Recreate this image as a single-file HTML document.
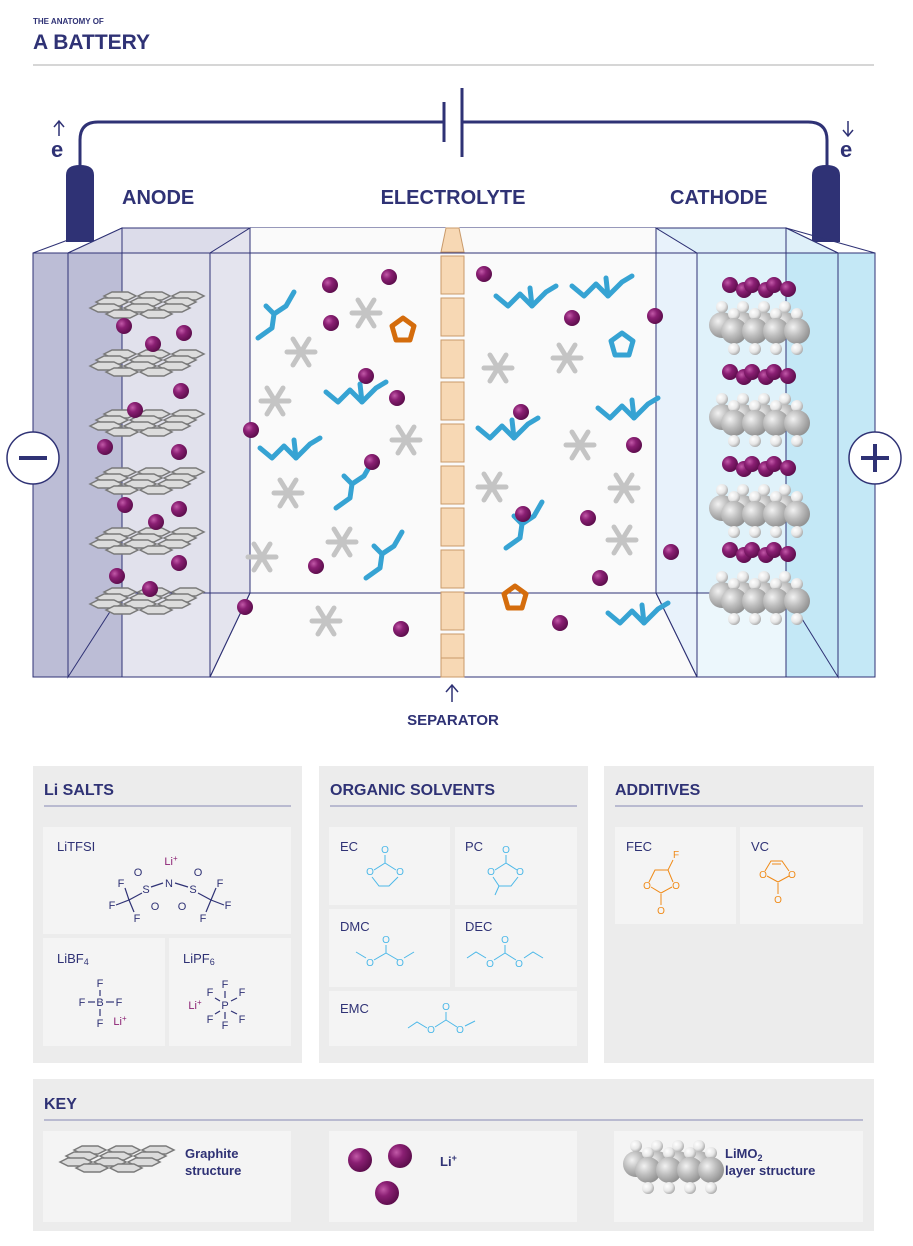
<!DOCTYPE html>
<html><head><meta charset="utf-8"><style>
html,body{margin:0;padding:0;background:#fff;}
svg{display:block;font-family:"Liberation Sans",sans-serif;}
</style></head><body>
<svg width="913" height="1246" viewBox="0 0 913 1246" xmlns="http://www.w3.org/2000/svg">
<defs>
<radialGradient id="li" cx="0.35" cy="0.35" r="0.7"><stop offset="0" stop-color="#c25aa8"/><stop offset="0.4" stop-color="#8a1f73"/><stop offset="1" stop-color="#5a0c4a"/></radialGradient>
<radialGradient id="gs" cx="0.35" cy="0.35" r="0.7"><stop offset="0" stop-color="#f2f2f2"/><stop offset="0.5" stop-color="#bdbdbd"/><stop offset="1" stop-color="#8f8f8f"/></radialGradient>
<radialGradient id="ws" cx="0.35" cy="0.35" r="0.7"><stop offset="0" stop-color="#ffffff"/><stop offset="0.6" stop-color="#e6e6e6"/><stop offset="1" stop-color="#a8a8a8"/></radialGradient>
<circle id="L" r="8" fill="url(#li)"/>
<g id="hex"><polygon points="0,4 8,0 24,0 32,4 24,8 8,8" fill="#dcdcdc" stroke="#7a7a7a" stroke-width="1.5"/></g>
<g id="gr">
<use href="#hex" x="14" y="0"/><use href="#hex" x="48" y="0"/><use href="#hex" x="82" y="0"/>
<use href="#hex" x="6" y="6"/><use href="#hex" x="40" y="6"/><use href="#hex" x="74" y="6"/>
<use href="#hex" x="0" y="12"/><use href="#hex" x="34" y="12"/><use href="#hex" x="68" y="12"/>
<use href="#hex" x="50" y="18"/><use href="#hex" x="16" y="18"/>
</g>
<g id="cl">
<circle cx="0" cy="-18" r="6" fill="url(#ws)"/><circle cx="21" cy="-18" r="6" fill="url(#ws)"/><circle cx="42" cy="-18" r="6" fill="url(#ws)"/><circle cx="63" cy="-18" r="6" fill="url(#ws)"/>
<circle cx="0" cy="0" r="13" fill="url(#gs)"/><circle cx="21" cy="0" r="13" fill="url(#gs)"/><circle cx="42" cy="0" r="13" fill="url(#gs)"/><circle cx="63" cy="0" r="13" fill="url(#gs)"/>
<circle cx="12" cy="-11" r="6" fill="url(#ws)"/><circle cx="33" cy="-11" r="6" fill="url(#ws)"/><circle cx="54" cy="-11" r="6" fill="url(#ws)"/><circle cx="75" cy="-11" r="6" fill="url(#ws)"/>
<circle cx="12" cy="6" r="13" fill="url(#gs)"/><circle cx="33" cy="6" r="13" fill="url(#gs)"/><circle cx="54" cy="6" r="13" fill="url(#gs)"/><circle cx="75" cy="6" r="13" fill="url(#gs)"/>
<circle cx="12" cy="24" r="6" fill="url(#ws)"/><circle cx="33" cy="24" r="6" fill="url(#ws)"/><circle cx="54" cy="24" r="6" fill="url(#ws)"/><circle cx="75" cy="24" r="6" fill="url(#ws)"/>
</g>
<g id="lr"><use href="#L" x="0" y="0"/><use href="#L" x="14" y="5"/><use href="#L" x="22" y="0"/><use href="#L" x="36" y="5"/><use href="#L" x="44" y="0"/><use href="#L" x="58" y="4"/></g>
<g id="ast" stroke="#c4c4c4" stroke-width="5" stroke-linecap="round"><line x1="-14" y1="0" x2="14" y2="0"/><line x1="-8" y1="-13" x2="8" y2="13"/><line x1="-8" y1="13" x2="8" y2="-13"/></g>
<g id="bm" fill="none" stroke="#36a3d3" stroke-width="5" stroke-linecap="round" stroke-linejoin="round"><polyline points="-24,18 -10,8 -8,-6 4,-14 12,-28"/><line x1="-8" y1="-6" x2="-16" y2="-14"/></g>
<g id="bm2" fill="none" stroke="#36a3d3" stroke-width="5" stroke-linecap="round" stroke-linejoin="round"><polyline points="-28,-4 -16,6 -4,-6 8,6 22,-8 32,-14"/><line x1="8" y1="6" x2="6" y2="-12"/></g>
<g id="ring"><polygon points="0,-12 11,-4 7,10 -7,10 -11,-4" fill="none" stroke-width="5" stroke-linejoin="round"/></g>
</defs>

<!-- header -->
<text x="33" y="24" font-size="8" font-weight="bold" fill="#2f3275">THE ANATOMY OF</text>
<text x="33" y="49" font-size="21" font-weight="bold" fill="#2f3275">A BATTERY</text>
<line x1="33" y1="65" x2="874" y2="65" stroke="#c8c8c8" stroke-width="1.5"/>

<!-- wire -->
<path d="M80 170 V140 Q80 122 98 122 H444" fill="none" stroke="#2f3275" stroke-width="3"/>
<path d="M462 122 H808 Q827 122 827 140 V170" fill="none" stroke="#2f3275" stroke-width="3"/>
<line x1="444" y1="102" x2="444" y2="142" stroke="#2f3275" stroke-width="3"/>
<line x1="462" y1="88" x2="462" y2="157" stroke="#2f3275" stroke-width="3"/>
<text x="51" y="157" font-size="22" font-weight="bold" fill="#2f3275">e</text>
<path d="M59 136 V122 M54 127 L59 121 L64 127" fill="none" stroke="#2f3275" stroke-width="1.5"/>
<text x="840" y="157" font-size="22" font-weight="bold" fill="#2f3275">e</text>
<path d="M848 121 V135 M843 130 L848 136 L853 130" fill="none" stroke="#2f3275" stroke-width="1.5"/>
<path d="M66 242 V175 Q66 165 80 165 Q94 165 94 175 V242 Z" fill="#2f3275"/>
<path d="M812 242 V175 Q812 165 826 165 Q840 165 840 175 V242 Z" fill="#2f3275"/>

<text x="122" y="204" font-size="20" font-weight="bold" fill="#2f3275">ANODE</text>
<text x="453" y="204" font-size="20" font-weight="bold" fill="#2f3275" text-anchor="middle">ELECTROLYTE</text>
<text x="670" y="204" font-size="20" font-weight="bold" fill="#2f3275">CATHODE</text>

<!-- cell -->
<g stroke="#2f3275" stroke-width="1">
<polygon points="250,228 656,228 656,593 250,593" fill="#fafafa"/>
<polygon points="250,228 656,228 697,253 697,677 210,677 210,253" fill="#fafafa" stroke="none"/>
<polygon points="33,253 68,253 68,677 33,677" fill="#bcbdd6"/>
<polygon points="68,253 122,228 122,593 68,677" fill="#bcbdd6"/>
<polygon points="122,228 250,228 250,593 122,593" fill="#e0e0ec"/>
<polygon points="68,253 122,228 250,228 210,253" fill="#dcdcea"/>
<polygon points="68,253 210,253 210,677 68,677" fill="#e0e0ec" fill-opacity="0.85"/>
<rect x="68" y="253" width="54" height="424" fill="#bcbdd6" stroke="none"/>
<line x1="122" y1="228" x2="122" y2="677"/>
<polygon points="210,253 250,228 250,593 210,677" fill="#e4e4ee"/>
<polygon points="656,228 786,228 786,593 656,593" fill="#e2f2fa"/>
<polygon points="656,228 697,253 697,677 656,593" fill="#e8f2fb"/>
<polygon points="786,228 838,253 838,677 786,593" fill="#c4e8f6"/>
<polygon points="838,253 875,253 875,677 838,677" fill="#c4e8f6"/>
<polygon points="656,228 786,228 838,253 697,253" fill="#dff0f9"/>
<polygon points="697,253 838,253 838,677 697,677" fill="#dff1fa" fill-opacity="0.6"/>
<rect x="786" y="253" width="52" height="424" fill="#c4e8f6" stroke="none"/>
<line x1="786" y1="228" x2="786" y2="677"/>
<line x1="33" y1="253" x2="875" y2="253"/>
<line x1="33" y1="677" x2="875" y2="677"/>
<line x1="68" y1="253" x2="68" y2="677"/><line x1="838" y1="253" x2="838" y2="677"/>
<line x1="122" y1="593" x2="786" y2="593"/>
<line x1="68" y1="677" x2="122" y2="593"/><line x1="210" y1="677" x2="250" y2="593"/>
<line x1="697" y1="677" x2="656" y2="593"/><line x1="838" y1="677" x2="786" y2="593"/>
<line x1="786" y1="228" x2="875" y2="253"/>
<line x1="33" y1="253" x2="68" y2="240"/>
</g>

<!-- graphite -->
<use href="#gr" x="90" y="292"/><use href="#gr" x="90" y="350"/><use href="#gr" x="90" y="410"/>
<use href="#gr" x="90" y="468"/><use href="#gr" x="90" y="528"/><use href="#gr" x="90" y="588"/>
<!-- Li anode -->
<use href="#L" x="124" y="326"/><use href="#L" x="153" y="344"/><use href="#L" x="184" y="333"/>
<use href="#L" x="181" y="391"/><use href="#L" x="135" y="410"/><use href="#L" x="105" y="447"/>
<use href="#L" x="179" y="452"/><use href="#L" x="125" y="505"/><use href="#L" x="179" y="509"/>
<use href="#L" x="156" y="522"/><use href="#L" x="179" y="563"/><use href="#L" x="117" y="576"/>
<use href="#L" x="150" y="589"/>

<!-- cathode -->
<use href="#lr" x="730" y="285"/><use href="#cl" x="722" y="325"/>
<use href="#lr" x="730" y="372"/><use href="#cl" x="722" y="417"/>
<use href="#lr" x="730" y="464"/><use href="#cl" x="722" y="508"/>
<use href="#lr" x="730" y="550"/><use href="#cl" x="722" y="595"/>

<!-- electrolyte molecules -->
<use href="#bm" x="282" y="320"/><use href="#bm2" x="354" y="396"/><use href="#bm2" x="288" y="452"/>
<use href="#bm" x="360" y="490"/><use href="#bm" x="390" y="560"/>
<use href="#bm2" x="524" y="300"/><use href="#bm2" x="600" y="290"/><use href="#bm2" x="506" y="432"/>
<use href="#bm2" x="626" y="412"/><use href="#bm" x="530" y="530"/><use href="#bm2" x="636" y="617"/>
<use href="#ring" x="403" y="330" stroke="#d46c0c"/><use href="#ring" x="515" y="598" stroke="#d46c0c"/>
<use href="#ring" x="622" y="345" stroke="#36a3d3"/>
<use href="#ast" x="301" y="352"/><use href="#ast" x="366" y="313"/><use href="#ast" x="275" y="401"/>
<use href="#ast" x="406" y="440"/><use href="#ast" x="288" y="493"/><use href="#ast" x="342" y="542"/>
<use href="#ast" x="262" y="557"/><use href="#ast" x="326" y="621"/><use href="#ast" x="498" y="368"/>
<use href="#ast" x="567" y="358"/><use href="#ast" x="580" y="445"/><use href="#ast" x="492" y="487"/>
<use href="#ast" x="624" y="488"/><use href="#ast" x="622" y="540"/>
<use href="#L" x="330" y="285"/><use href="#L" x="389" y="277"/><use href="#L" x="331" y="323"/>
<use href="#L" x="366" y="376"/><use href="#L" x="397" y="398"/><use href="#L" x="251" y="430"/>
<use href="#L" x="372" y="462"/><use href="#L" x="316" y="566"/><use href="#L" x="245" y="607"/>
<use href="#L" x="401" y="629"/><use href="#L" x="484" y="274"/><use href="#L" x="572" y="318"/>
<use href="#L" x="655" y="316"/><use href="#L" x="521" y="412"/><use href="#L" x="634" y="445"/>
<use href="#L" x="523" y="514"/><use href="#L" x="588" y="518"/><use href="#L" x="671" y="552"/>
<use href="#L" x="600" y="578"/><use href="#L" x="560" y="623"/>

<!-- separator -->
<g fill="#f7d8b4" stroke="#c99a6a" stroke-width="1">
<polygon points="441,252 446,228 459,228 464,252"/>
<rect x="441" y="256" width="23" height="38"/><rect x="441" y="298" width="23" height="38"/>
<rect x="441" y="340" width="23" height="38"/><rect x="441" y="382" width="23" height="38"/>
<rect x="441" y="424" width="23" height="38"/><rect x="441" y="466" width="23" height="38"/>
<rect x="441" y="508" width="23" height="38"/><rect x="441" y="550" width="23" height="38"/>
<rect x="441" y="592" width="23" height="38"/><rect x="441" y="634" width="23" height="38"/>
<rect x="441" y="658" width="23" height="19"/>
</g>
<path d="M452 702 V686 M446 692 L452 685 L458 692" fill="none" stroke="#2f3275" stroke-width="1.5"/>
<text x="453" y="725" font-size="15" font-weight="bold" fill="#2f3275" text-anchor="middle">SEPARATOR</text>

<!-- +/- -->
<circle cx="33" cy="458" r="26" fill="#fff" stroke="#2f3275" stroke-width="1.5"/>
<line x1="19" y1="458" x2="47" y2="458" stroke="#2f3275" stroke-width="4"/>
<circle cx="875" cy="458" r="26" fill="#fff" stroke="#2f3275" stroke-width="1.5"/>
<line x1="861" y1="458" x2="889" y2="458" stroke="#2f3275" stroke-width="4"/>
<line x1="875" y1="444" x2="875" y2="472" stroke="#2f3275" stroke-width="4"/>

<!-- panels -->
<rect x="33" y="766" width="269" height="297" fill="#ececec"/>
<rect x="319" y="766" width="269" height="297" fill="#ececec"/>
<rect x="604" y="766" width="270" height="297" fill="#ececec"/>
<rect x="33" y="1079" width="841" height="152" fill="#ececec"/>
<g font-size="16" font-weight="bold" fill="#2f3275">
<text x="44" y="795">Li SALTS</text><text x="330" y="795">ORGANIC SOLVENTS</text><text x="615" y="795">ADDITIVES</text><text x="44" y="1109">KEY</text>
</g>
<g stroke="#9a9cc0" stroke-width="1.2"><line x1="44" y1="806" x2="291" y2="806"/><line x1="330" y1="806" x2="577" y2="806"/><line x1="615" y1="806" x2="863" y2="806"/><line x1="44" y1="1120" x2="863" y2="1120"/></g>
<g fill="#f4f4f4">
<rect x="43" y="827" width="248" height="107"/><rect x="43" y="938" width="122" height="108"/><rect x="169" y="938" width="122" height="108"/>
<rect x="329" y="827" width="121" height="78"/><rect x="455" y="827" width="122" height="78"/>
<rect x="329" y="909" width="121" height="78"/><rect x="455" y="909" width="122" height="78"/>
<rect x="329" y="991" width="248" height="55"/>
<rect x="615" y="827" width="121" height="97"/><rect x="740" y="827" width="123" height="97"/>
<rect x="43" y="1131" width="248" height="91"/><rect x="329" y="1131" width="248" height="91"/><rect x="614" y="1131" width="249" height="91"/>
</g>
<g font-size="13" fill="#2f3275">
<text x="57" y="851">LiTFSI</text><text x="57" y="963">LiBF<tspan font-size="9" dy="2">4</tspan></text><text x="183" y="963">LiPF<tspan font-size="9" dy="2">6</tspan></text>
<text x="340" y="851">EC</text><text x="465" y="851">PC</text><text x="340" y="931">DMC</text><text x="465" y="931">DEC</text><text x="340" y="1013">EMC</text>
<text x="626" y="851">FEC</text><text x="751" y="851">VC</text>
<text x="185" y="1158" font-weight="bold">Graphite</text><text x="185" y="1175" font-weight="bold">structure</text>
<text x="440" y="1166" font-weight="bold">Li<tspan font-size="9" dy="-5">+</tspan></text>
<text x="725" y="1158" font-weight="bold">LiMO<tspan font-size="9" dy="3">2</tspan></text><text x="725" y="1175" font-weight="bold">layer structure</text>
</g>
<!-- LiTFSI -->
<g font-size="11" fill="#2f3275" text-anchor="middle">
<text x="171" y="865" fill="#8a1f73">Li<tspan font-size="8" dy="-4">+</tspan></text>
<text x="169" y="887">N</text><text x="146" y="893">S</text><text x="193" y="893">S</text>
<text x="138" y="876">O</text><text x="198" y="876">O</text><text x="155" y="910">O</text><text x="182" y="910">O</text>
<text x="121" y="887">F</text><text x="112" y="909">F</text><text x="137" y="922">F</text>
<text x="220" y="887">F</text><text x="228" y="909">F</text><text x="203" y="922">F</text>
<text x="100" y="987">F</text><text x="82" y="1006">F</text><text x="100" y="1006">B</text><text x="119" y="1006">F</text><text x="100" y="1027">F</text>
<text x="120" y="1025" fill="#8a1f73">Li<tspan font-size="8" dy="-4">+</tspan></text>
<text x="225" y="988">F</text><text x="210" y="996">F</text><text x="242" y="996">F</text><text x="225" y="1009">P</text>
<text x="210" y="1023">F</text><text x="242" y="1023">F</text><text x="225" y="1029">F</text>
<text x="195" y="1009" fill="#8a1f73">Li<tspan font-size="8" dy="-4">+</tspan></text>
</g>
<g stroke="#2f3275" stroke-width="1.2" fill="none">
<line x1="151" y1="887" x2="163" y2="883"/><line x1="175" y1="883" x2="188" y2="887"/>
<line x1="142" y1="893" x2="129" y2="900"/><line x1="125" y1="888" x2="129" y2="900"/><line x1="116" y1="905" x2="129" y2="900"/><line x1="129" y1="900" x2="134" y2="912"/>
<line x1="198" y1="893" x2="211" y2="900"/><line x1="216" y1="888" x2="211" y2="900"/><line x1="224" y1="905" x2="211" y2="900"/><line x1="211" y1="900" x2="206" y2="912"/>
<line x1="100" y1="990" x2="100" y2="996"/><line x1="88" y1="1002" x2="95" y2="1002"/><line x1="106" y1="1002" x2="114" y2="1002"/><line x1="100" y1="1009" x2="100" y2="1016"/>
<line x1="225" y1="991" x2="225" y2="998"/><line x1="215" y1="998" x2="220" y2="1001"/><line x1="231" y1="1001" x2="237" y2="998"/><line x1="215" y1="1014" x2="220" y2="1011"/><line x1="231" y1="1011" x2="237" y2="1014"/><line x1="225" y1="1012" x2="225" y2="1019"/>
</g>
<!-- solvents -->
<g font-size="10" fill="#4bb8e8" text-anchor="middle">
<text x="385" y="853">O</text><text x="370" y="875">O</text><text x="400" y="875">O</text>
<text x="506" y="853">O</text><text x="491" y="875">O</text><text x="520" y="875">O</text>
<text x="386" y="943">O</text><text x="370" y="966">O</text><text x="400" y="966">O</text>
<text x="505" y="943">O</text><text x="490" y="967">O</text><text x="519" y="967">O</text>
<text x="446" y="1010">O</text><text x="431" y="1033">O</text><text x="460" y="1033">O</text>
</g>
<g stroke="#4bb8e8" stroke-width="1" fill="none">
<line x1="385" y1="855" x2="385" y2="863"/><line x1="374" y1="870" x2="385" y2="863"/><line x1="396" y1="870" x2="385" y2="863"/><polyline points="372,877 379,886 389,886 398,877"/>
<line x1="506" y1="855" x2="506" y2="863"/><line x1="495" y1="870" x2="506" y2="863"/><line x1="517" y1="870" x2="506" y2="863"/><polyline points="493,877 499,886 511,886 518,877"/><line x1="499" y1="886" x2="495" y2="895"/>
<line x1="386" y1="945" x2="386" y2="953"/><polyline points="356,952 366,958"/><line x1="374" y1="960" x2="386" y2="953"/><line x1="398" y1="960" x2="386" y2="953"/><line x1="404" y1="958" x2="414" y2="952"/>
<line x1="505" y1="945" x2="505" y2="953"/><polyline points="467,958 476,952 486,958"/><line x1="494" y1="960" x2="505" y2="953"/><line x1="516" y1="960" x2="505" y2="953"/><polyline points="524,958 533,952 543,958"/>
<line x1="446" y1="1012" x2="446" y2="1020"/><polyline points="408,1028 417,1022 427,1028"/><line x1="435" y1="1027" x2="446" y2="1020"/><line x1="457" y1="1027" x2="446" y2="1020"/><line x1="465" y1="1026" x2="475" y2="1021"/>
</g>
<!-- additives -->
<g font-size="10" fill="#f08a17" text-anchor="middle">
<text x="676" y="858">F</text><text x="647" y="889">O</text><text x="676" y="889">O</text><text x="661" y="914">O</text>
<text x="763" y="878">O</text><text x="792" y="878">O</text><text x="778" y="903">O</text>
</g>
<g stroke="#f08a17" stroke-width="1" fill="none">
<polyline points="649,882 655,870 668,870 673,882"/><line x1="668" y1="870" x2="673" y2="860"/><polyline points="651,887 661,893 672,887"/><line x1="661" y1="894" x2="661" y2="905"/>
<polyline points="765,871 771,861 782,861 789,871"/><line x1="772" y1="864" x2="781" y2="864"/><polyline points="767,876 778,882 789,876"/><line x1="778" y1="883" x2="778" y2="894"/>
</g>
<!-- key -->
<use href="#gr" x="60" y="1146"/>
<circle cx="360" cy="1160" r="12" fill="url(#li)"/><circle cx="400" cy="1156" r="12" fill="url(#li)"/><circle cx="387" cy="1193" r="12" fill="url(#li)"/>
<use href="#cl" x="636" y="1164"/>
</svg>
</body></html>
